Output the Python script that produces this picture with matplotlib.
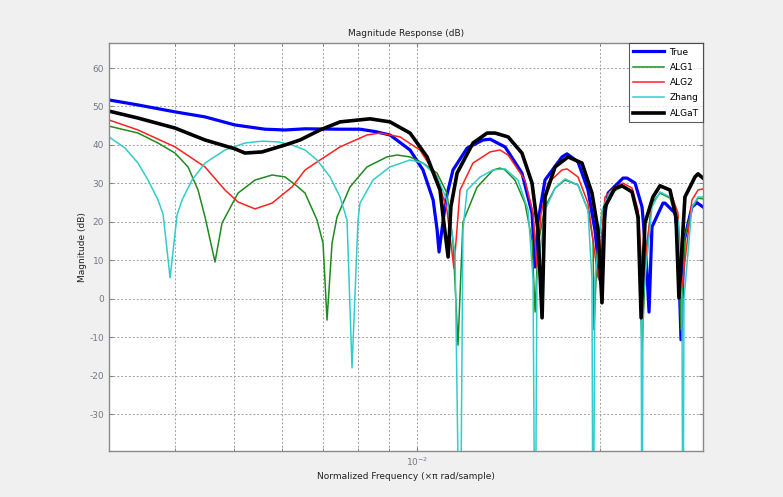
import numpy as np
import matplotlib
matplotlib.use('Agg')
import matplotlib.pyplot as plt
from matplotlib.ticker import FixedLocator, NullFormatter

plt.rcParams['axes.unicode_minus'] = False

# frequencies in units of 1e-3 (x pi rad/sample), magnitudes in dB
f_true = [3.114, 3.476, 3.999, 4.480, 5.018, 5.623, 6.066, 6.544, 7.471, 8.058,
          8.529, 9.028, 9.739, 10.23, 10.63, 10.79, 10.87, 10.99, 11.16, 11.46,
          12.09, 12.84, 13.19, 13.96, 14.88, 15.46, 15.64, 15.81, 16.24, 17.32,
          17.65, 18.40, 19.11, 19.62, 20.00, 20.30, 20.62, 21.82, 22.16, 22.84,
          23.45, 23.80, 24.08, 24.35, 25.39, 25.58, 26.57, 26.87, 27.18, 27.49,
          28.33, 28.88, 29.54]
m_true = [51.7, 50.4, 48.6, 47.3, 45.2, 44.1, 43.9, 44.2, 44.1, 44.1,
          43.5, 42.6, 38.7, 33.5, 25.7, 18.0, 12.2, 18.0, 26.0, 33.5,
          39.2, 41.3, 41.5, 39.5, 32.7, 22.3, 8.3, 20.0, 30.9, 36.9,
          37.7, 35.6, 28.3, 17.9, 4.9, 20.0, 27.5, 31.4, 31.4, 30.1,
          23.9, 12.0, -3.4, 18.7, 24.9, 24.9, 22.3, 16.1, -10.6, 15.0,
          23.9, 25.0, 23.9]

f_alg1 = [3.114, 3.476, 3.750, 3.999, 4.201, 4.363, 4.480, 4.653, 4.778, 5.076,
          5.415, 5.775, 6.066, 6.372, 6.544, 6.848, 7.005, 7.112, 7.248, 7.386,
          7.759, 8.274, 8.926, 9.271, 9.739, 10.23, 10.79, 11.20, 11.46, 11.68,
          11.90, 12.55, 13.34, 13.69, 13.96, 14.49, 15.05, 15.46, 15.64, 15.81,
          16.24, 16.87, 17.52, 18.40, 19.11, 19.48, 19.55, 19.78, 20.15, 20.77,
          21.74, 22.58, 23.10, 23.45, 23.80, 24.35, 25.10, 26.07, 26.87, 27.18,
          27.59, 28.33, 28.99, 29.54]
m_alg1 = [44.9, 43.1, 40.5, 37.9, 34.3, 28.3, 21.3, 9.6, 19.7, 27.5,
          30.9, 32.2, 31.7, 29.1, 27.5, 20.5, 14.5, -5.5, 14.5, 21.3,
          29.1, 34.3, 36.9, 37.4, 36.9, 35.3, 32.7, 27.5, 15.0, -12.0,
          20.0, 29.0, 33.5, 34.0, 33.5, 30.9, 24.9, 15.3, -3.4, 14.0,
          23.9, 28.8, 30.9, 29.6, 23.1, 15.3, -8.0, 12.0, 22.3, 27.5,
          29.1, 27.8, 20.5, -13.2, 12.0, 24.9, 27.5, 26.2, 19.7, -8.0,
          16.0, 23.6, 26.2, 26.0]

f_alg2 = [3.114, 3.476, 3.999, 4.480, 4.832, 5.076, 5.415, 5.775, 6.229, 6.544,
          6.926, 7.471, 8.274, 8.692, 9.377, 10.11, 10.79, 11.20, 11.50, 11.77,
          12.36, 13.19, 13.69, 14.12, 15.05, 15.52, 15.75, 15.99, 16.42, 17.32,
          17.65, 18.40, 19.11, 19.85, 20.38, 21.17, 21.82, 22.58, 23.10, 23.54,
          24.35, 25.10, 26.07, 26.87, 27.28, 28.33, 28.99, 29.54]
m_alg2 = [46.5, 43.9, 39.5, 34.3, 28.3, 25.2, 23.4, 24.9, 29.1, 33.5,
          36.1, 39.5, 42.6, 43.1, 42.1, 38.7, 31.7, 23.1, 8.0, 28.3,
          35.3, 38.2, 38.7, 37.4, 30.9, 22.3, 8.3, 22.0, 30.1, 33.5,
          33.8, 31.7, 24.9, 5.5, 26.5, 29.1, 30.1, 28.8, 23.1, 4.0,
          25.7, 29.1, 28.3, 22.3, 3.0, 25.7, 28.3, 28.6]

f_zhang = [3.114, 3.309, 3.476, 3.610, 3.750, 3.822, 3.925, 4.030, 4.107, 4.265,
           4.480, 4.832, 5.212, 5.561, 5.908, 6.229, 6.544, 6.848, 7.194, 7.471,
           7.672, 7.818, 7.998, 8.058, 8.465, 9.028, 9.739, 10.23, 10.79, 11.20,
           11.55, 11.77, 11.90, 12.09, 12.70, 13.34, 13.96, 14.66, 15.23, 15.52,
           15.64, 15.75, 16.24, 16.87, 17.52, 18.40, 19.11, 19.40, 19.48, 19.62,
           20.15, 20.77, 21.58, 22.58, 23.10, 23.37, 23.45, 23.54, 24.35, 25.10,
           26.07, 26.87, 27.28, 27.38, 27.49, 28.33, 28.99, 29.54]
m_zhang = [42.1, 39.2, 35.3, 30.9, 25.7, 22.0, 5.5, 21.8, 25.7, 30.9,
           35.3, 38.7, 40.5, 41.0, 40.8, 40.0, 38.7, 36.1, 31.7, 26.5,
           20.5, -17.9, 20.5, 24.9, 30.9, 34.3, 36.1, 35.3, 31.7, 25.7,
           12.0, -80.0, 18.0, 28.3, 31.7, 33.5, 33.8, 30.9, 23.1, 5.0,
           -80.0, 5.0, 23.1, 28.8, 31.2, 29.6, 23.1, 5.0, -80.0, 5.0,
           23.1, 27.8, 29.4, 27.8, 20.5, 0.0, -80.0, 0.0, 23.9, 27.8,
           26.5, 20.5, 0.0, -80.0, 0.0, 23.9, 26.5, 26.5]

f_algat = [3.114, 3.476, 3.999, 4.480, 5.018, 5.212, 5.561, 6.066, 6.421, 6.926,
           7.471, 8.369, 9.028, 9.739, 10.39, 10.91, 11.04, 11.25, 11.37, 11.64,
           12.36, 13.04, 13.44, 14.12, 14.88, 15.46, 15.81, 16.06, 16.24, 16.87,
           17.72, 18.68, 19.40, 19.85, 20.15, 20.38, 21.17, 21.74, 22.58, 23.10,
           23.37, 23.71, 24.44, 25.10, 26.07, 26.67, 26.97, 27.59, 28.66, 28.99,
           29.54]
m_algat = [48.8, 47.0, 44.4, 41.3, 39.0, 37.9, 38.2, 40.0, 41.3, 43.9,
           46.0, 46.8, 46.0, 43.1, 36.9, 28.3, 21.3, 10.9, 24.0, 32.7,
           40.5, 43.1, 43.1, 42.1, 37.9, 30.1, 17.9, -4.9, 26.5, 34.3,
           36.9, 35.3, 27.5, 17.9, -1.0, 23.9, 28.8, 29.4, 27.8, 21.3,
           -4.9, 19.7, 26.5, 29.4, 28.3, 21.3, 0.3, 26.5, 31.7, 32.5,
           31.4]

series = [
    ('True', f_true, m_true, '#0000ff', 2.3),
    ('ALG1', f_alg1, m_alg1, '#1f8a1f', 1.1),
    ('ALG2', f_alg2, m_alg2, '#ff2020', 1.1),
    ('Zhang', f_zhang, m_zhang, '#33cccc', 1.1),
    ('ALGaT', f_algat, m_algat, '#000000', 2.6),
]

fig = plt.figure(figsize=(7.83, 4.97), dpi=100, facecolor='#f0f0f0')
ax = fig.add_axes([0.1392, 0.0926, 0.7586, 0.8209])
ax.set_facecolor('white')

for name, f, m, c, lw in series:
    ax.plot(np.array(f) * 1e-3, m, color=c, lw=lw, label=name,
            solid_joinstyle='round')

ax.set_xscale('log')
ax.set_xlim(3.114e-3, 2.954e-2)
ax.set_ylim(-39.5, 66.5)
ax.set_yticks(np.arange(-30, 61, 10))
ax.xaxis.set_major_locator(FixedLocator([1e-2]))
ax.xaxis.set_minor_locator(FixedLocator([4e-3, 5e-3, 6e-3, 7e-3, 8e-3, 9e-3, 2e-2]))
ax.xaxis.set_minor_formatter(NullFormatter())
ax.set_xticklabels(['$10^{-2}$'])

gridkw = dict(color='#a0a0a0', linestyle=(0, (2, 2)), linewidth=0.7)
ax.grid(True, which='major', **gridkw)
ax.grid(True, which='minor', axis='x', **gridkw)

ax.tick_params(axis='both', which='both', direction='in', labelsize=6.5,
               labelcolor='#707a8a', color='#808080', top=True, right=True)
ax.tick_params(which='major', length=3)
ax.tick_params(which='minor', length=2)
for s in ax.spines.values():
    s.set_color('#8a8a8a')
    s.set_linewidth(1.0)

ax.set_title('Magnitude Response (dB)', fontsize=6.5, color='#222222', pad=5)
ax.set_xlabel('Normalized Frequency (\u00d7\u03c0 rad/sample)', fontsize=6.5,
              color='#222222', labelpad=3)
ax.set_ylabel('Magnitude (dB)', fontsize=6.5, color='#222222', labelpad=2)

leg = ax.legend(loc='upper right', fontsize=6.5, frameon=True, fancybox=False,
                borderaxespad=0.0, handlelength=3.4, labelspacing=0.7,
                handletextpad=0.6, borderpad=0.5)
leg.get_frame().set_edgecolor('#333333')
leg.get_frame().set_linewidth(0.8)

fig.savefig('out.png', dpi=100, facecolor=fig.get_facecolor())
